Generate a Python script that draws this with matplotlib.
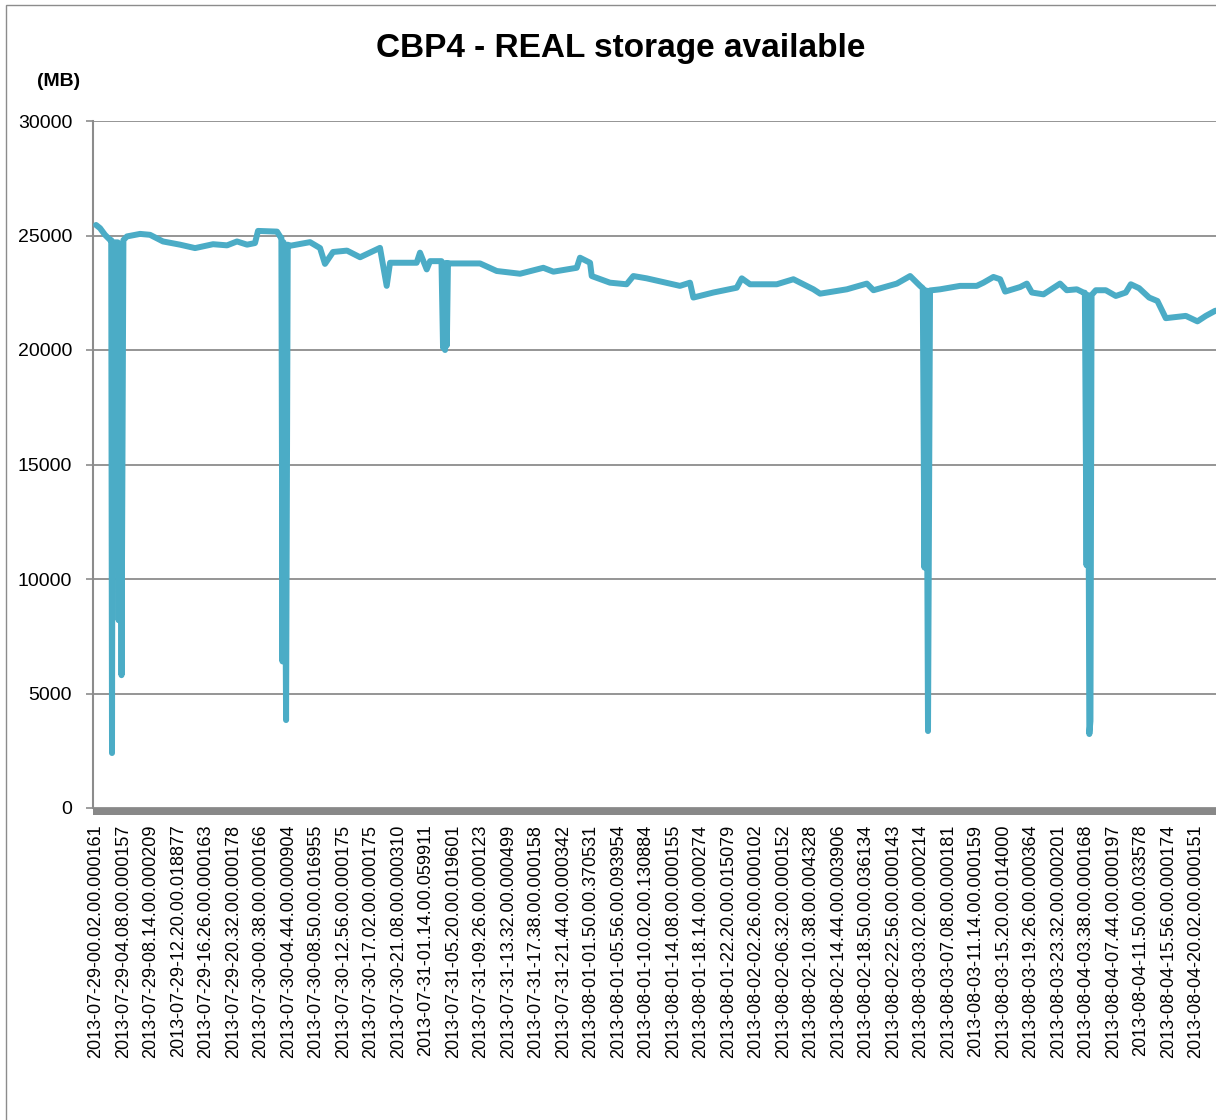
import matplotlib
matplotlib.use("Agg")
import matplotlib.pyplot as plt
from matplotlib.patches import Rectangle

plt.rcParams['font.family'] = ['Liberation Sans', 'DejaVu Sans']

# sample time in minutes from 2013-07-29 00.02 and storage
minutes = [0, 36, 80, 125,
           136, 143, 150, 170,
           195, 202, 212, 228, 245,
           277, 394, 483, 599, 751, 886, 1047, 1172, 1261, 1351, 1422, 1449, 1619, 1646,
           1658, 1668, 1678, 1700, 1715,
           1735, 1914, 2004, 2048, 2120, 2245, 2362, 2540, 2600, 2630, 2868, 2898, 2958, 2988, 3090,
           3104, 3114, 3122, 3130, 3138, 3148,
           3167, 3435, 3584, 3793, 4001, 4091, 4300, 4329, 4419, 4434, 4597, 4746, 4806, 4925,
           5223, 5313, 5343, 5522, 5731, 5776, 5850, 6089, 6238, 6417, 6477, 6716, 6895, 6954,
           7163, 7282, 7371,
           7395, 7410, 7425, 7442, 7460,
           7550, 7728, 7878, 7938, 8027, 8087, 8132, 8266, 8326, 8371, 8475, 8623, 8683, 8773, 8832,
           8845, 8860, 8872, 8885, 8895, 8905,
           8943, 9032, 9122, 9211, 9256, 9330, 9420, 9494, 9569, 9748, 9852, 9927, 10010, 10060]
storage_mb = [25460, 25320, 25030, 24810,
              24800, 2400, 24700, 24700,
              24700, 8200, 24300, 5800, 24800,
              24960, 25070, 25030, 24740, 24600, 24450, 24620, 24570, 24740, 24600, 24670, 25200, 25170, 24960,
              24900, 6400, 24700, 3840, 24600,
              24550, 24710, 24450, 23760, 24280, 24340, 24050, 24460, 22800, 23810, 23810, 24250, 23520, 23880, 23880,
              20100, 23700, 20000, 23800, 20200, 23800,
              23780, 23780, 23450, 23330, 23590, 23420, 23590, 24030, 23810, 23230, 22940, 22870, 23230, 23130,
              22800, 22940, 22290, 22510, 22720, 23130, 22870, 22870, 23090, 22650, 22460, 22650, 22900, 22610,
              22900, 23230, 22800,
              22700, 10500, 22600, 3360, 22600,
              22650, 22800, 22800, 22940, 23190, 23090, 22550, 22750, 22900, 22510, 22430, 22900, 22610, 22650, 22510,
              22500, 10600, 22400, 3230, 3800, 22400,
              22610, 22610, 22360, 22510, 22870, 22700, 22290, 22140, 21390, 21490, 21250, 21490, 21710, 21750]

tick_labels = [
    "2013-07-29-00.02.00.000161", "2013-07-29-04.08.00.000157", "2013-07-29-08.14.00.000209",
    "2013-07-29-12.20.00.018877", "2013-07-29-16.26.00.000163", "2013-07-29-20.32.00.000178",
    "2013-07-30-00.38.00.000166", "2013-07-30-04.44.00.000904", "2013-07-30-08.50.00.016955",
    "2013-07-30-12.56.00.000175", "2013-07-30-17.02.00.000175", "2013-07-30-21.08.00.000310",
    "2013-07-31-01.14.00.059911", "2013-07-31-05.20.00.019601", "2013-07-31-09.26.00.000123",
    "2013-07-31-13.32.00.000499", "2013-07-31-17.38.00.000158", "2013-07-31-21.44.00.000342",
    "2013-08-01-01.50.00.370531", "2013-08-01-05.56.00.093954", "2013-08-01-10.02.00.130884",
    "2013-08-01-14.08.00.000155", "2013-08-01-18.14.00.000274", "2013-08-01-22.20.00.015079",
    "2013-08-02-02.26.00.000102", "2013-08-02-06.32.00.000152", "2013-08-02-10.38.00.004328",
    "2013-08-02-14.44.00.003906", "2013-08-02-18.50.00.036134", "2013-08-02-22.56.00.000143",
    "2013-08-03-03.02.00.000214", "2013-08-03-07.08.00.000181", "2013-08-03-11.14.00.000159",
    "2013-08-03-15.20.00.014000", "2013-08-03-19.26.00.000364", "2013-08-03-23.32.00.000201",
    "2013-08-04-03.38.00.000168", "2013-08-04-07.44.00.000197", "2013-08-04-11.50.00.033578",
    "2013-08-04-15.56.00.000174", "2013-08-04-20.02.00.000151",
]
label_step = 246  # one label every 246 samples (minutes)

W, H = 1216, 1120
fig = plt.figure(figsize=(W / 100, H / 100), dpi=100)

# excel chart-area border (cut off at right / bottom)
fig.add_artist(Rectangle((6 / W, -0.1), 1.2, 1 - 5 / H + 0.1, transform=fig.transFigure,
                         fill=False, edgecolor='#8c8c8c', lw=1.0))

ax = fig.add_axes([93 / W, 1 - 808 / H, (W - 93) / W, (808 - 121) / H])

ax.plot(minutes, storage_mb, color='#4BACC6', lw=4.3,
        solid_joinstyle='round', solid_capstyle='round', zorder=3)

ax.set_ylim(0, 30000)
ax.set_yticks(range(0, 30001, 5000))
ax.set_xlim(-27, 10018)
ax.set_xticks([i * label_step for i in range(len(tick_labels))])
ax.set_xticklabels(tick_labels, rotation=90, fontsize=13, va='top', ha='center')
ax.tick_params(axis='x', length=0, pad=12)
ax.tick_params(axis='y', length=5, width=1.2, color='#8c8c8c', pad=10, labelsize=14)

ax.grid(axis='y', color='#8c8c8c', lw=1.3)
ax.set_axisbelow(True)
for s in ['top', 'right', 'bottom']:
    ax.spines[s].set_visible(False)
ax.spines['left'].set_color('#8c8c8c')
ax.spines['left'].set_linewidth(1.5)

# dense category tick marks merge into a band under the axis
fig.add_artist(Rectangle((93 / W, 1 - 815 / H), 1.0, 7 / H, transform=fig.transFigure,
                         facecolor='#888888', edgecolor='none'))

fig.text(621 / W, 1 - 48 / H, "CBP4 - REAL storage available", fontsize=24,
         fontweight='bold', ha='center', va='center')
fig.text(59 / W, 1 - 82 / H, "(MB)", fontsize=14, fontweight='bold', ha='center', va='center')

fig.savefig("out.png", dpi=100)
